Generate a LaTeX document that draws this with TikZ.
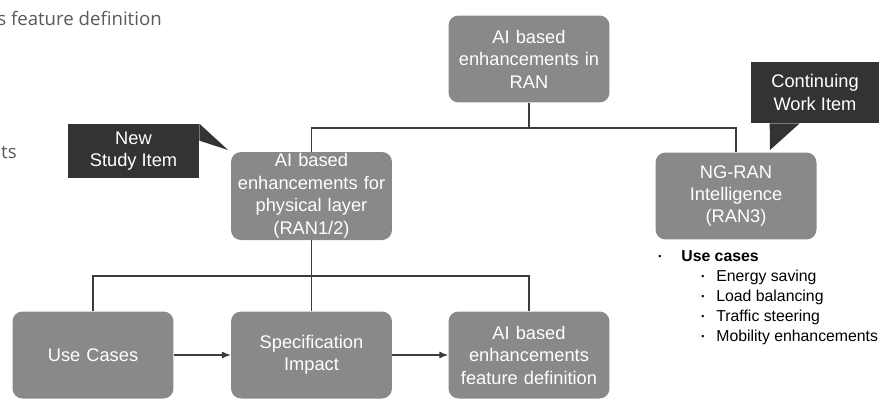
\documentclass[tikz,border=0pt]{standalone}
\usepackage{fontspec}
\setmainfont{Liberation Sans}
\newfontfamily\slidefont{Open Sans}
\usetikzlibrary{positioning,calc,arrows.meta}

\definecolor{boxgray}{HTML}{898989}
\definecolor{calloutgray}{HTML}{333333}
\definecolor{linegray}{HTML}{3C3C3C}
\definecolor{slidegray}{HTML}{5A5A5A}

\newcommand{\dotitem}{\raisebox{0.25ex}{\tiny\textbullet}}

\begin{document}
\begin{tikzpicture}[x=0.02cm, y=-0.02cm, every node/.style={font=\fontsize{10.4}{12.8}\selectfont}]
    \tikzset{block/.style={rectangle, fill=boxgray, text=white, text width=3.1cm, align=center, rounded corners=0.2cm, minimum width=3.22cm, minimum height=1.74cm, inner sep=1pt}}
    \tikzset{callout/.style={rectangle, fill=calloutgray, text=white, align=center, inner sep=1pt}}
    \tikzset{tree/.style={draw=linegray, semithick}}
    \tikzset{line/.style={draw=linegray, semithick, -{Latex[length=5pt, width=4pt]}}}
    \tikzset{slidetext/.style={text=slidegray, font=\slidefont\fontsize{10.6}{13}\selectfont, inner sep=0pt}}

    \useasboundingbox (0,0) rectangle (891,406);

    % cut-off text of the slide behind
    \node [slidetext, anchor=base west] (frag1) at (-3,25) {s feature definition};
    \node [slidetext, anchor=base east] (frag2) at (17,158) {ts};

    \node [block] (ran) at (529,59) {AI based\\enhancements in\\RAN};
    \node [block] (phys) at (311.5,196) {AI based\\enhancements for\\physical layer\\(RAN1/2)};
    \node [block] (ngran) at (736,196) {NG-RAN\\Intelligence\\(RAN3)};

    \node [block] (usec) at (93,355) {Use Cases};
    \node [block] (spec) at (311.5,355) {Specification\\Impact};
    \node [block] (feat) at (529,355) {AI based\\enhancements\\feature definition};

    % callouts
    \node [callout, minimum width=2.62cm, minimum height=1.08cm] (nsi) at (133.5,151) {New\\Study Item};
    \coordinate (nsitip) at (228,150);
    \fill [calloutgray] (nsi.north east) -- (nsitip) -- ($(nsi.north east)+(0,17)$) -- cycle;

    \node [callout, minimum width=2.56cm, minimum height=1.22cm] (cwi) at (815,92.5) {Continuing\\Work Item};
    \coordinate (cwitip) at (770,150);
    \fill [calloutgray] ($(cwi.south west)+(19,0)$) -- (cwitip) -- ($(cwi.south west)+(49,0)$) -- cycle;

    % tree connectors
    \coordinate (split) at (529,128);
    \draw [tree] (ran) -- (split);
    \draw [tree] (phys.north) |- (split) -| (ngran.north);

    \coordinate (split2) at (311.5,276);
    \draw [tree] (phys) -- (spec);
    \draw [tree] (usec.north) |- (split2) -| (feat.north);

    \path [line] (usec) -- (spec);
    \path [line] (spec) -- (feat);

    % use case list
    \node [anchor=north west, align=left, inner sep=0pt, font=\fontsize{9}{11.4}\selectfont] (cases) at (658,250)
        {\makebox[0.46cm][l]{\dotitem}\textbf{Use cases}\\
         \hspace*{0.86cm}\makebox[0.3cm][l]{\dotitem}Energy saving\\
         \hspace*{0.86cm}\makebox[0.3cm][l]{\dotitem}Load balancing\\
         \hspace*{0.86cm}\makebox[0.3cm][l]{\dotitem}Traffic steering\\
         \hspace*{0.86cm}\makebox[0.3cm][l]{\dotitem}Mobility enhancements};
\end{tikzpicture}
\end{document}
